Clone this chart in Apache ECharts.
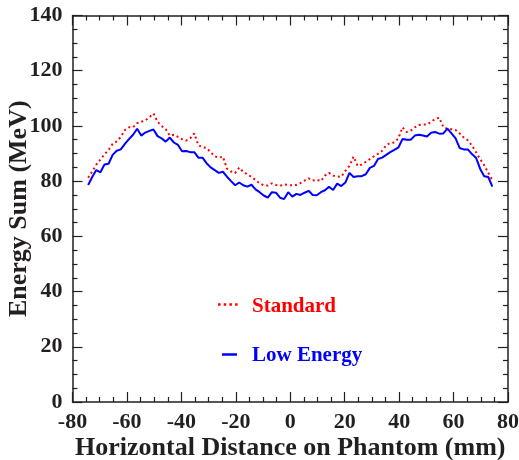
<!DOCTYPE html>
<html>
<head>
<meta charset="utf-8">
<script src="https://cdn.jsdelivr.net/npm/echarts@6/dist/echarts.min.js"></script>
<style>html,body{margin:0;padding:0;background:#fff}#c{width:519px;height:460px}</style>
</head>
<body>
<div id="c"></div>
<script>
// Bin centres (mm): 100 bins of 1.5 mm from -75 to 75
const positions = [];
for (let i = 0; i < 100; i++) positions.push(-74.25 + 1.5 * i);

const standard = [
81.2,83.5,86,87.8,89.7,91.3,93.5,94.4,96,98.5,
99.5,99.5,101,101.5,102,103.2,104.5,101.5,100,98.8,
96.5,96.8,96,95.2,94.7,95.5,97.3,93,92.3,92,
90.5,89,88.5,88.9,84.5,83.5,82.9,84.9,83.3,82.5,
81.5,80.4,79.2,78.5,78.4,79.2,78.6,78.3,78.8,78.6,
78.5,78.6,79.3,80.2,81,80.2,80.5,80,82,83,
82,81.7,81.6,83.7,85.5,88.9,85.5,86,87,88,
89,89.9,91,93,93.8,94,95.5,99.5,97.8,98.3,
99.5,100.3,100.5,100.5,101.5,102.5,103,99.5,99,98.8,
98.5,97.3,95.8,94.8,92.9,90.5,88,85.8,83,80.4
];
const lowEnergy = [
78.6,81.5,84,83.2,86,86.3,89.5,91,91.5,93.5,
95.2,96.8,99,96.5,97.6,98.2,98.7,96.3,95.5,94.3,
95.8,94,93.1,90.8,90.9,90.5,90.5,88.5,88.5,86.5,
85,84,83,83.4,81.6,80,78.5,79.5,78.5,78,
78.7,77,76,74.8,74,76,75.8,74,73.5,76,
74.4,75.4,75,75.8,76.5,75,74.9,76,76.7,78,
76.8,79.1,78.2,79.5,83,81.5,81.8,81.8,82.5,84.8,
85.5,88,88.5,89.5,90.5,91.3,92.2,95.3,95,95,
96.5,96.8,96.5,96.2,97.5,97.8,97.2,97.3,99,97.3,
95.5,92,91.5,91.5,89.8,88.5,84.5,81.8,81.5,78
];
const xTicks = {min: -80, max: 80, step: 20};
const yTicks = {min: 0, max: 140, step: 20};
const seriesNames = ['Standard', 'Low Energy'];

const font = '"Liberation Serif", "Times New Roman", serif';
const ink = '#231f20';
const RED = '#ff0000', BLUE = '#0000ff';
const pair = (xs, ys) => xs.map((x, i) => [x, ys[i]]);

const tickCommon = {
  axisLine: {show: true, onZero: false, lineStyle: {color: ink, width: 1.5}},
  axisTick: {show: true, inside: true, length: 10, lineStyle: {color: ink, width: 1.2}},
  minorTick: {show: true, splitNumber: 4, length: 5, lineStyle: {color: ink, width: 1.2}},
  splitLine: {show: false}
};

const chart = echarts.init(document.getElementById('c'), null, {renderer: 'canvas'});
chart.setOption({
  animation: false,
  backgroundColor: '#fff',
  grid: {left: 72.5, right: 11, top: 15.5, bottom: 58, containLabel: false, outerBoundsMode: 'none'},
  xAxis: [
    Object.assign({
      type: 'value', position: 'bottom', min: xTicks.min, max: xTicks.max, interval: xTicks.step,
      name: 'Horizontal Distance on Phantom (mm)', nameLocation: 'middle', nameGap: 33,
      nameMoveOverlap: false,
      nameTextStyle: {fontFamily: font, fontWeight: 'bold', fontSize: 26, color: ink},
      axisLabel: {fontFamily: font, fontWeight: 'bold', fontSize: 22, color: ink, margin: 9}
    }, tickCommon),
    Object.assign({
      type: 'value', position: 'top', min: xTicks.min, max: xTicks.max, interval: xTicks.step,
      axisLabel: {show: false}
    }, tickCommon)
  ],
  yAxis: [
    Object.assign({
      type: 'value', position: 'left', min: yTicks.min, max: yTicks.max, interval: yTicks.step,
      name: 'Energy Sum (MeV)', nameLocation: 'middle', nameGap: 40,
      nameMoveOverlap: false,
      nameTextStyle: {fontFamily: font, fontWeight: 'bold', fontSize: 26, color: ink},
      axisLabel: {fontFamily: font, fontWeight: 'bold', fontSize: 22, color: ink, margin: 10}
    }, tickCommon),
    Object.assign({
      type: 'value', position: 'right', min: yTicks.min, max: yTicks.max, interval: yTicks.step,
      axisLabel: {show: false}
    }, tickCommon)
  ],
  legend: {show: false},
  graphic: [
    {type: 'line', shape: {x1: 218, y1: 304.5, x2: 239, y2: 304.5},
     style: {stroke: RED, lineWidth: 2.5, lineDash: [2.5, 3.2]}},
    {type: 'text', left: 252, top: 296,
     style: {text: seriesNames[0], fill: RED, font: 'bold 21px ' + font}},
    {type: 'line', shape: {x1: 222, y1: 354.5, x2: 237, y2: 354.5},
     style: {stroke: BLUE, lineWidth: 2.5}},
    {type: 'text', left: 252, top: 345,
     style: {text: seriesNames[1], fill: BLUE, font: 'bold 21px ' + font}}
  ],
  series: [
    {
      name: seriesNames[0], type: 'line', showSymbol: false, symbol: 'none',
      data: pair(positions, standard), z: 3,
      itemStyle: {color: RED},
      lineStyle: {color: RED, width: 2, type: [2, 3]}
    },
    {
      name: seriesNames[1], type: 'line', showSymbol: false, symbol: 'none',
      data: pair(positions, lowEnergy), z: 4,
      itemStyle: {color: BLUE},
      lineStyle: {color: BLUE, width: 2}
    }
  ]
});
</script>
</body>
</html>
